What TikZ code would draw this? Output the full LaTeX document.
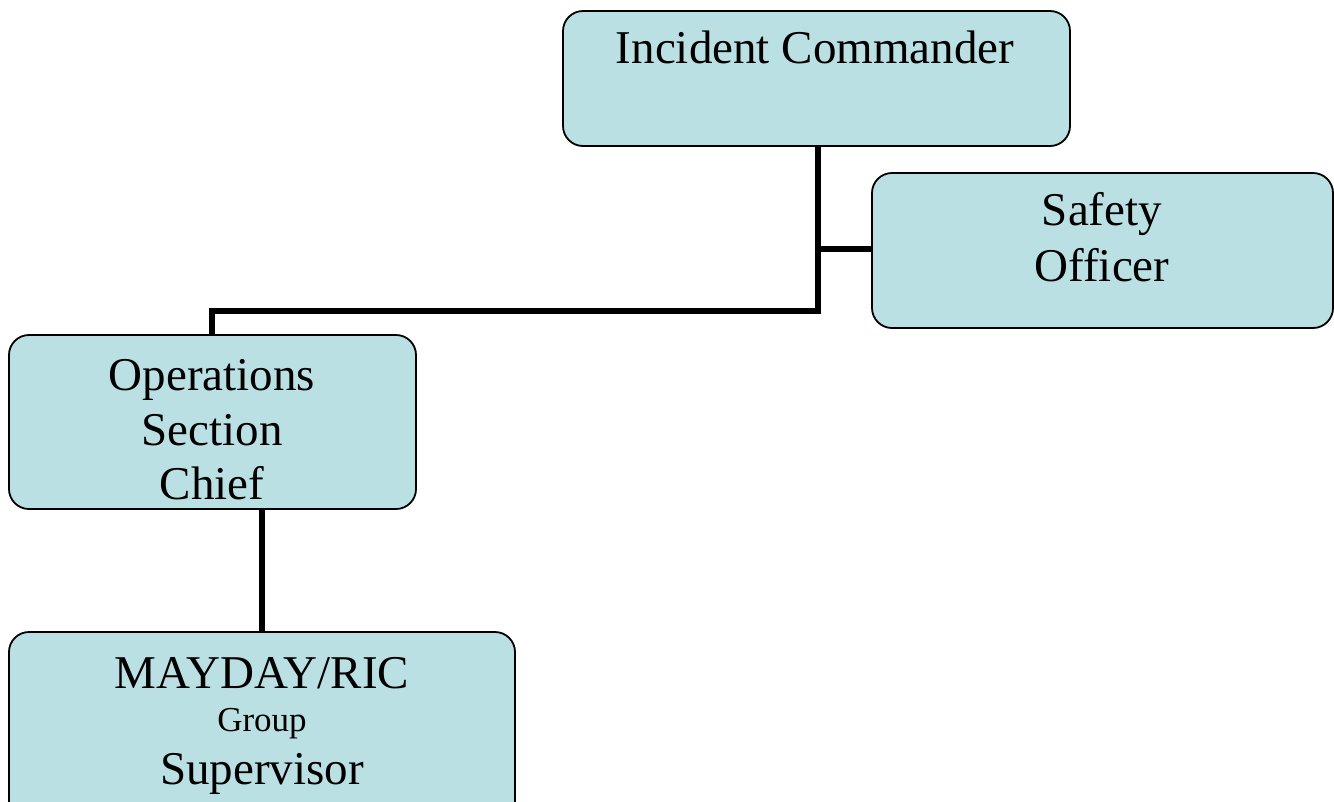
\documentclass[tikz,border=0pt]{standalone}
\usepackage{fontspec}
\setmainfont{Liberation Serif}
\begin{document}
\begin{tikzpicture}[x=1pt,y=-1pt,
  box/.style={draw=black,line width=1.8pt,fill=boxfill,rounded corners=20pt,inner sep=0pt},
  txt/.style={anchor=base,inner sep=0pt,font=\fontsize{47}{55}\selectfont},
  small/.style={anchor=base,inner sep=0pt,font=\fontsize{35}{40}\selectfont},
  conn/.style={line width=5.5pt}]
\definecolor{boxfill}{HTML}{BBE0E3}
\useasboundingbox (0,0) rectangle (1334,801);
\clip (0,0) rectangle (1334,801);
% boxes
\node[box,minimum width=507pt,minimum height=135pt] (ic) at (816.5,78.5) {};
\node[box,minimum width=461pt,minimum height=155pt] (so) at (1102.5,250.5) {};
\node[box,minimum width=407pt,minimum height=174pt] (ops) at (212.5,422) {};
\node[box,minimum width=506pt,minimum height=200pt] (md) at (262,732) {};
% connectors
\coordinate (j1) at (818,249);
\coordinate (j2) at (818,311);
\coordinate (j3) at (212,311);
\draw[conn] (ic.south -| j1) -- (j2) -- (j3) -- (ops.north -| j3);
\draw[conn] (j1) -- (so.west |- j1);
\draw[conn] (ops.south -| 262,0) -- (md.north -| 262,0);
% texts
\node[txt] (t1) at (815,63) {Incident Commander};
\node[txt] (t2) at (1102,225) {Safety};
\node[txt] (t3) at (1102,281) {Officer};
\node[txt] (t4) at (212,390) {Operations};
\node[txt] (t5) at (212,445) {Section};
\node[txt] (t6) at (212,499) {Chief};
\node[txt] (t7) at (262,688) {MAYDAY/RIC};
\node[small] (t8) at (262,731) {Group};
\node[txt] (t9) at (262,784) {Supervisor};
\end{tikzpicture}
\end{document}
